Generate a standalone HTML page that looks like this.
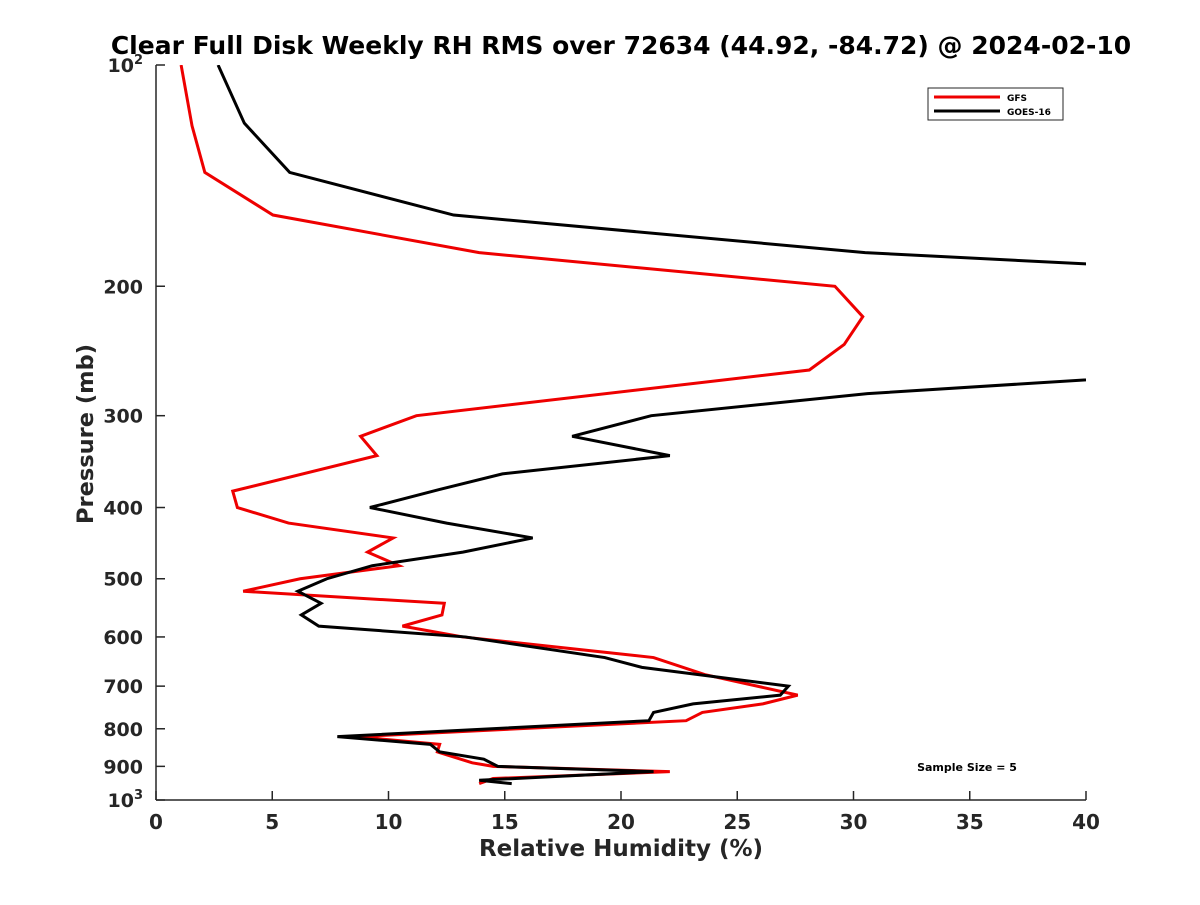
<!DOCTYPE html>
<html><head><meta charset="utf-8"><style>
body{margin:0;background:#fff;}
svg text{font-family:"DejaVu Sans","Liberation Sans",sans-serif;font-weight:bold;fill:#262626;}
</style></head><body>
<svg id="chart" width="1200" height="900">
<defs><clipPath id="clip"><rect x="156" y="65" width="930" height="735"/></clipPath></defs>
<text x="621" y="54" text-anchor="middle" font-size="25" style="fill:#000">Clear Full Disk Weekly RH RMS over 72634 (44.92, -84.72) @ 2024-02-10</text>
<g id="axes"></g>
<g id="series" clip-path="url(#clip)"></g>
<g>
<rect x="928" y="88" width="135" height="32" fill="#fff" stroke="#262626" stroke-width="1"/>
<line x1="934" y1="97" x2="1000" y2="97" stroke="#e00" stroke-width="3"/>
<text x="1007" y="101" font-size="9" style="fill:#000">GFS</text>
<line x1="934" y1="111" x2="1000" y2="111" stroke="#000" stroke-width="3"/>
<text x="1007" y="115" font-size="9" style="fill:#000">GOES-16</text>
</g>
<text x="967" y="771" text-anchor="middle" font-size="11" style="fill:#000">Sample Size = 5</text>
<text x="621" y="856" text-anchor="middle" font-size="23">Relative Humidity (%)</text>
<text transform="translate(93,434) rotate(-90)" text-anchor="middle" font-size="22.5">Pressure (mb)</text>
</svg>
<script>
const xTicks=[0,5,10,15,20,25,30,35,40];
const yTicks=[100,200,300,400,500,600,700,800,900,1000];
const gfsPressure=[100,121,140,160,180,200,220,240,260,300,320,340,380,400,420,440,460,480,500,520,540,560,580,600,640,675,720,740,760,780,820,840,860,890,900,915,935,950];
const gfsRH=[1.08,1.55,2.1,5.03,13.9,29.2,30.4,29.6,28.1,11.2,8.8,9.5,3.3,3.5,5.7,10.2,9.1,10.45,6.2,3.75,12.4,12.3,10.6,13.2,21.4,23.6,27.6,26.1,23.5,22.8,8.6,12.2,12.1,13.6,14.5,22.1,14.5,13.9];
const goesPressure=[100,120,140,160,180,190,262,280,300,320,340,360,378,400,420,440,460,480,500,520,540,560,580,600,640,660,700,720,740,760,780,820,840,860,880,900,915,940,950];
const goesRH=[2.67,3.8,5.75,12.8,30.5,45,45,30.6,21.3,17.9,22.1,14.9,12.2,9.2,12.5,16.2,13.2,9.3,7.35,6.1,7.1,6.25,7.0,13.3,19.3,20.9,27.2,26.85,23.1,21.4,21.2,7.8,11.8,12.2,14.1,14.7,21.4,13.9,15.3];
const X=v=>156+v/40*930;
const Y=p=>65+Math.log10(p/100)*735;
const NS='http://www.w3.org/2000/svg';
function mk(t,a){const e=document.createElementNS(NS,t);for(const k in a)e.setAttribute(k,a[k]);return e;}
const axes=document.getElementById('axes');
const xa=mk('line',{x1:156,y1:800,x2:1086,y2:800,stroke:'#262626','stroke-width':1.5});


axes.appendChild(xa);
const ya=mk('line',{x1:156,y1:65,x2:156,y2:800,stroke:'#262626','stroke-width':1.5});


axes.appendChild(ya);
xTicks.forEach(v=>{
 axes.appendChild(mk('line',{x1:X(v),y1:800,x2:X(v),y2:791,stroke:'#262626','stroke-width':1.5}));
 const t=mk('text',{x:X(v),y:829,'text-anchor':'middle','font-size':20});
 t.textContent=v;
 
 
 axes.appendChild(t);
});
yTicks.forEach(p=>{
 axes.appendChild(mk('line',{x1:156,y1:Y(p),x2:165,y2:Y(p),stroke:'#262626','stroke-width':1.5}));
 const t=mk('text',{x:143,y:Y(p)+7,'text-anchor':'end','font-size':19});
 if(p===100||p===1000){t.textContent='10';const s=mk('tspan',{dy:-8,'font-size':13});s.textContent=p===100?'2':'3';t.appendChild(s);}
 else t.textContent=p;
 
 
 axes.appendChild(t);
});
const ser=document.getElementById('series');
function line(ps,vs,color,name){
 const pts=ps.map((p,i)=>X(vs[i])+','+Y(p)).join(' ');
 const pl=mk('polyline',{points:pts,fill:'none',stroke:color,'stroke-width':3,'stroke-linejoin':'miter'});
 
 
 ser.appendChild(pl);
}
line(gfsPressure,gfsRH,'#e00','gfs-line');
line(goesPressure,goesRH,'#000','goes16-line');
</script>
</body></html>
